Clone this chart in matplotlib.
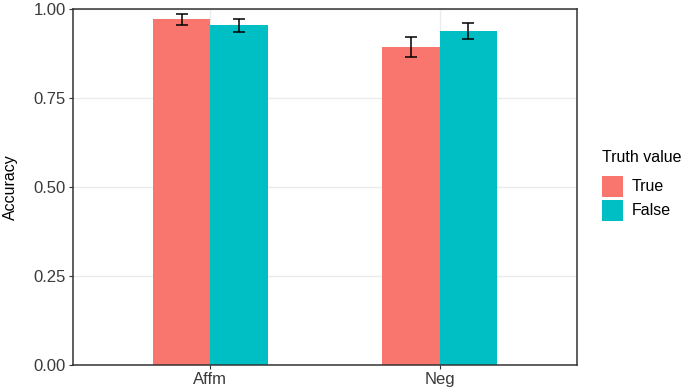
"""Accuracy by sentence polarity and truth value (grouped bars with error bars)."""

import matplotlib

matplotlib.use("Agg")
import matplotlib.pyplot as plt
from matplotlib.patches import Rectangle

polarity = ["Affm", "Neg"]
truth_values = ["True", "False"]
accuracy = {
    "True": [0.971, 0.893],
    "False": [0.954, 0.938],
}
error = {
    "True": [0.015, 0.027],
    "False": [0.019, 0.022],
}
colors = {"True": "#F8766D", "False": "#00BFC4"}
y_ticks = [0.0, 0.25, 0.5, 0.75, 1.0]

plt.rcParams["font.family"] = ["Liberation Sans", "DejaVu Sans"]

W, H = 685, 390
fig = plt.figure(figsize=(W / 100, H / 100), dpi=100)
ax = fig.add_axes([73 / W, 25 / H, 504 / W, 356 / H])

width = 0.25
x = range(1, len(polarity) + 1)
for i, tv in enumerate(truth_values):
    offset = (i - 0.5) * width
    xs = [xi + offset for xi in x]
    ax.bar(xs, accuracy[tv], width=width, color=colors[tv], zorder=2)
    ax.errorbar(xs, accuracy[tv], yerr=error[tv], fmt="none", ecolor="black",
                elinewidth=1.1, capsize=4.3, capthick=1.1, zorder=3)

ax.set_xlim(0.4, 2.6)
ax.set_ylim(0, 1)
ax.set_xticks(list(x))
ax.set_xticklabels(polarity)
ax.set_yticks(y_ticks)
ax.set_yticklabels([f"{t:.2f}" for t in y_ticks])

ax.grid(True, color="#EBEBEB", linewidth=1.0, zorder=0)
ax.set_axisbelow(True)
for spine in ax.spines.values():
    spine.set_color("#333333")
    spine.set_linewidth(1.1)
ax.tick_params(axis="both", length=3.2, width=0.8, color="#333333",
               labelsize=12, labelcolor="#3A3A3A", pad=2)

fig.text(10.5 / W, 1 - 187 / H, "Accuracy", rotation=90, ha="center", va="center",
         fontsize=11.5, color="black")

# legend drawn by hand so the key boxes sit where ggplot puts them
fig.text(602 / W, 1 - 158 / H, "Truth value", ha="left", va="center", fontsize=11.5)
for i, tv in enumerate(truth_values):
    top = 176 + i * 24
    fig.add_artist(Rectangle((602 / W, 1 - (top + 21) / H), 21 / W, 21 / H,
                             transform=fig.transFigure, facecolor=colors[tv],
                             edgecolor="none"))
    fig.text(632 / W, 1 - (top + 10.5) / H, tv, ha="left", va="center", fontsize=11.5)

fig.savefig("out.png", dpi=100)
plt.close(fig)
